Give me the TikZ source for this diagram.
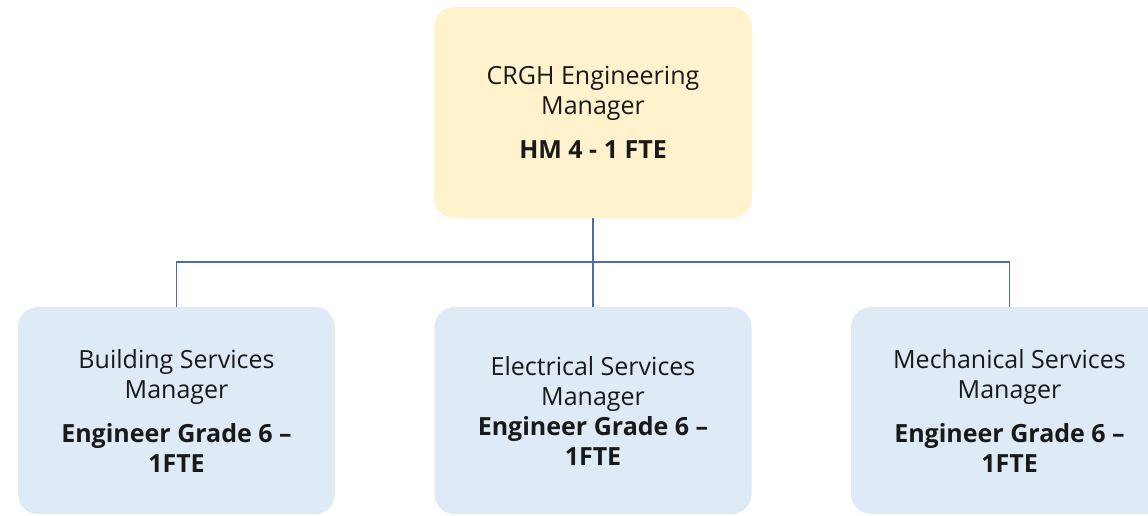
\documentclass[tikz,border=0pt]{standalone}
\usepackage{fontspec}
\setmainfont{Open Sans}
\definecolor{mgrfill}{HTML}{FFF2CC}
\definecolor{svcfill}{HTML}{DEEAF6}
\definecolor{linkblue}{HTML}{4A6DB0}
\begin{document}
\begin{tikzpicture}[x=1pt,y=-1pt,
  box/.style={rounded corners=20pt,minimum width=318pt,align=center,inner sep=0pt,
    font=\fontsize{25}{30}\selectfont,text=black!90},
  mgr/.style={box,fill=mgrfill,minimum height=211pt},
  svc/.style={box,fill=svcfill,minimum width=317pt,minimum height=207pt},
  link/.style={draw=linkblue,line width=1.4pt}]
  \useasboundingbox (0,0) rectangle (1148,515);
  \clip (0,0) rectangle (1148,515);
  % manager
  \node[mgr] (hm) at (593,112.5) {CRGH Engineering\\Manager\\[14pt]\textbf{HM 4 - 1 FTE}};
  % services
  \node[svc] (bs) at (176.5,410.5) {Building Services\\Manager\\[14pt]\textbf{Engineer Grade 6 –}\\\textbf{1FTE}};
  \node[svc] (es) at (593,410.5) {Electrical Services\\Manager\\\textbf{Engineer Grade 6 –}\\\textbf{1FTE}};
  \node[svc] (ms) at (1009.5,410.5) {Mechanical Services\\Manager\\[14pt]\textbf{Engineer Grade 6 –}\\\textbf{1FTE}};
  % links
  \draw[link] (hm.south) -- (es.north);
  \draw[link] (bs.north) -- ++(0,-45) -| (ms.north);
\end{tikzpicture}
\end{document}
